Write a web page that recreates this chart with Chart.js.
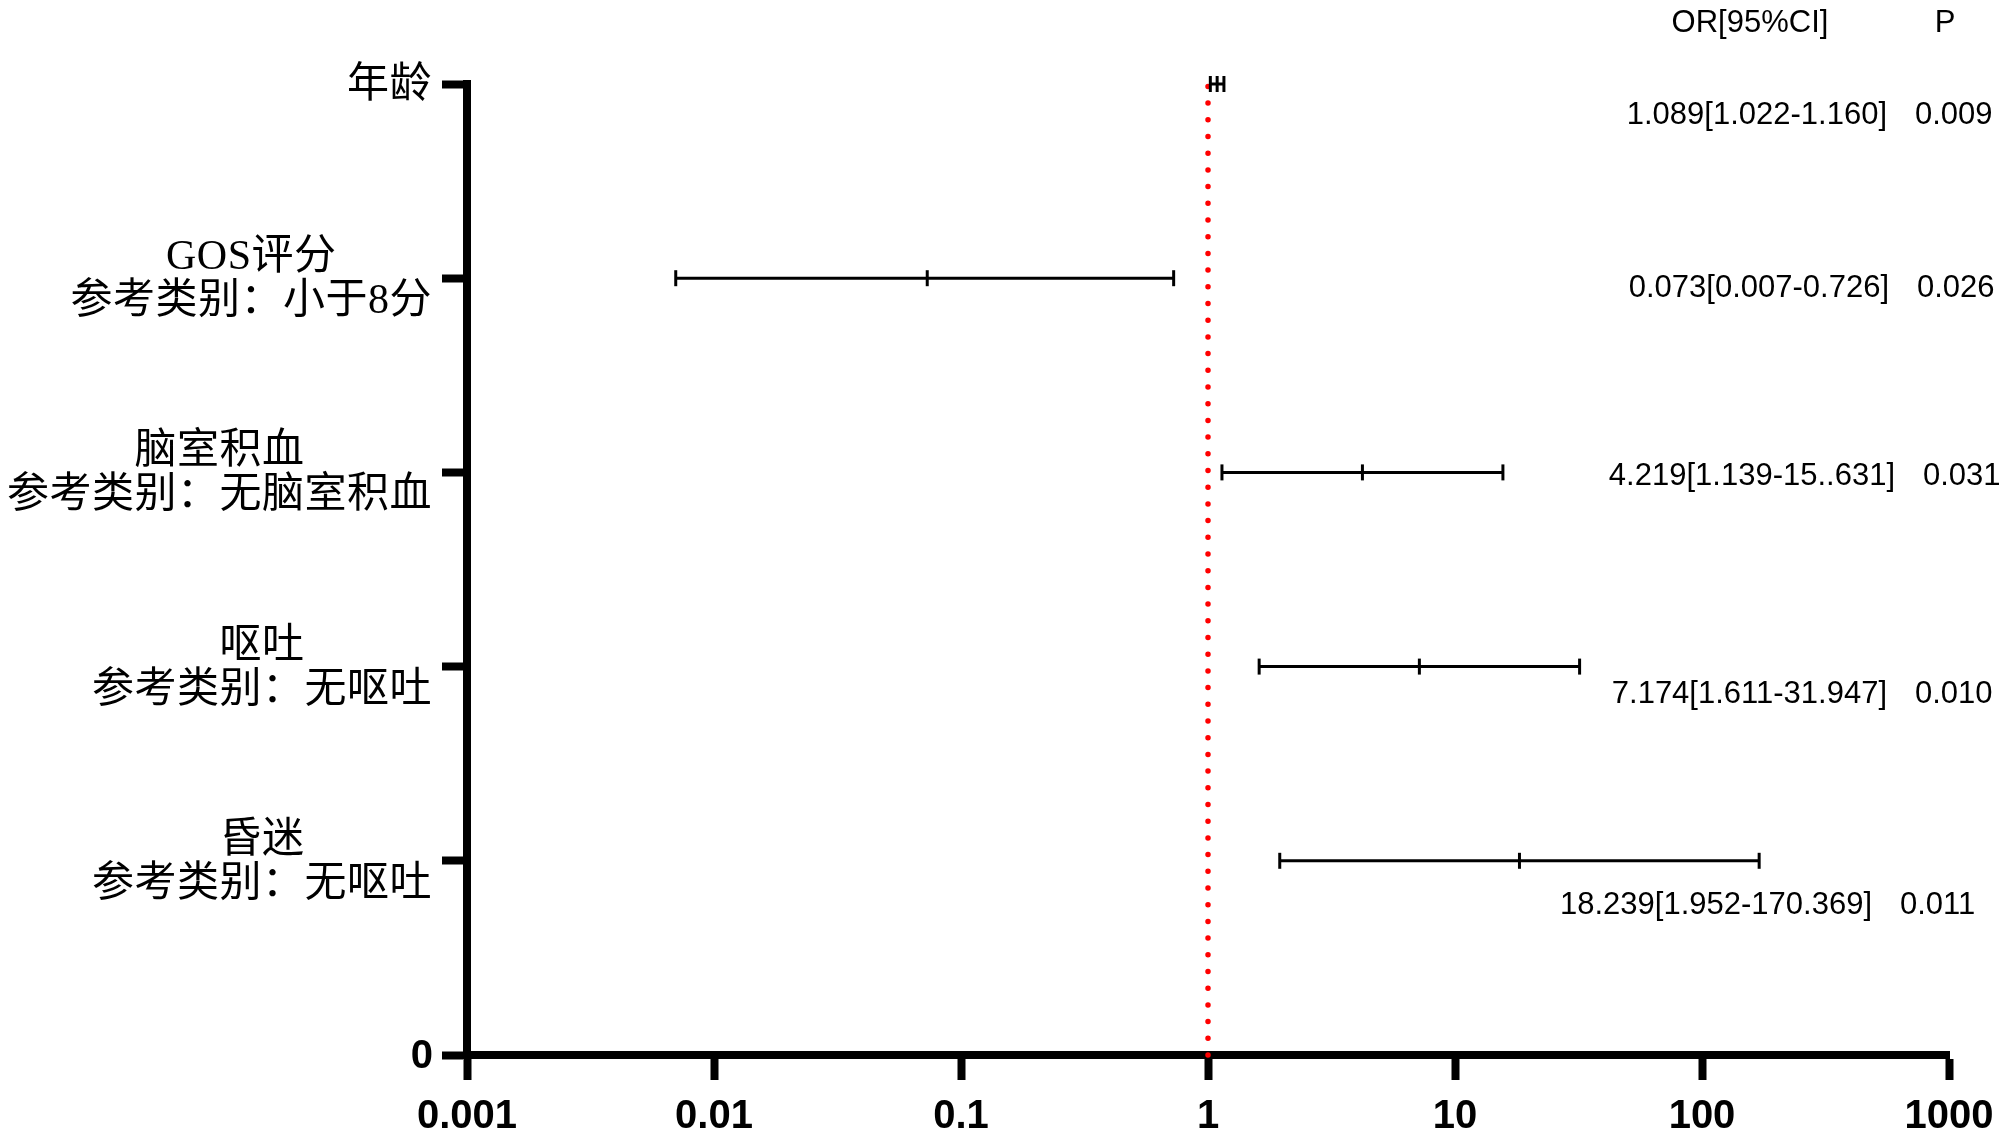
<!DOCTYPE html>
<html>
<head>
<meta charset="utf-8">
<title>Forest plot</title>
<script src="https://cdn.jsdelivr.net/npm/chart.js@4/dist/chart.umd.min.js"></script>
<style>
  html, body { margin: 0; padding: 0; background: #fff; }
  #wrap { width: 2000px; height: 1137px; position: relative; }
</style>
</head>
<body>
<div id="wrap"><canvas id="forestChart"></canvas></div>
<script>
// rows, top to bottom
var rowLabels = [
  ['年龄'],
  ['GOS评分', '参考类别：小于8分'],
  ['脑室积血', '参考类别：无脑室积血'],
  ['呕吐', '参考类别：无呕吐'],
  ['昏迷', '参考类别：无呕吐']
];
var rowY = [5, 4, 3, 2, 1];
var orValues = [1.089, 0.073, 4.219, 7.174, 18.239];
var ciLow = [1.022, 0.007, 1.139, 1.611, 1.952];
var ciHigh = [1.160, 0.726, 15.631, 31.947, 170.369];
var orText = ['1.089[1.022-1.160]', '0.073[0.007-0.726]', '4.219[1.139-15..631]', '7.174[1.611-31.947]', '18.239[1.952-170.369]'];
var pText = ['0.009', '0.026', '0.031', '0.010', '0.011'];
var xTicks = [0.001, 0.01, 0.1, 1, 10, 100, 1000];
var xTickLabels = ['0.001', '0.01', '0.1', '1', '10', '100', '1000'];
var refValue = 1;

(function () {
  'use strict';

  var serifCJK = '"Liberation Serif", "Noto Sans CJK SC", serif';
  var sans = '"Liberation Sans", Arial, sans-serif';

  // text placement for the right-hand columns (offset from each row's pixel)
  var textDy = [31, 10, 4, 28, 45];
  var orRight = [1887, 1889, 1895, 1887, 1872];
  var pLeft = [1915, 1917, 1923, 1915, 1900];

  var datasets = [];
  rowY.forEach(function (y, i) {
    datasets.push({
      data: [{ x: ciLow[i], y: y }, { x: orValues[i], y: y }, { x: ciHigh[i], y: y }],
      showLine: true,
      borderColor: '#000',
      borderWidth: 3,
      pointStyle: 'line',
      rotation: 90,
      pointRadius: 8,
      pointBorderWidth: 3,
      pointBorderColor: '#000',
      pointHoverRadius: 8,
      clip: false,
      order: 1
    });
  });
  datasets.push({
    data: [{ x: refValue, y: 0 }, { x: refValue, y: 5 }],
    showLine: true,
    borderColor: '#f00',
    borderWidth: 5.5,
    borderDash: [0, 16.7],
    borderCapStyle: 'round',
    pointRadius: 0,
    clip: false,
    order: 2
  });

  var textPlugin = {
    id: 'forestText',
    afterDraw: function (chart) {
      var ctx = chart.ctx;
      var ys = chart.scales.y;
      var labelRight = ys.right - 35;
      ctx.save();
      ctx.fillStyle = '#000';
      ctx.textBaseline = 'middle';

      // category labels, lines centred inside a right-aligned block
      ctx.font = '42px ' + serifCJK;
      if ('letterSpacing' in ctx) ctx.letterSpacing = '0.5px';
      rowLabels.forEach(function (lines, i) {
        var py = ys.getPixelForValue(rowY[i]);
        var w = 0;
        lines.forEach(function (t) { w = Math.max(w, ctx.measureText(t).width); });
        var cx = labelRight - w / 2;
        ctx.textAlign = 'center';
        if (lines.length === 1) {
          ctx.fillText(lines[0], cx, py + 2);
        } else {
          ctx.fillText(lines[0], cx, py - 20);
          ctx.fillText(lines[1], cx, py + 24);
        }
      });
      if ('letterSpacing' in ctx) ctx.letterSpacing = '0px';

      // zero label
      ctx.font = 'bold 40px ' + sans;
      ctx.textAlign = 'right';
      ctx.fillText('0', labelRight + 1, ys.getPixelForValue(0) + 2);

      // right-hand columns
      ctx.font = '31px ' + sans;
      ctx.textAlign = 'center';
      ctx.fillText('OR[95%CI]', 1750, 23);
      ctx.fillText('P', 1945, 23);
      rowY.forEach(function (y, i) {
        var py = ys.getPixelForValue(y) + textDy[i];
        ctx.textAlign = 'right';
        ctx.fillText(orText[i], orRight[i], py);
        ctx.textAlign = 'left';
        ctx.fillText(pText[i], pLeft[i], py);
      });
      ctx.restore();
    }
  };

  var canvas = document.getElementById('forestChart');
  new Chart(canvas.getContext('2d'), {
    type: 'scatter',
    data: { datasets: datasets },
    options: {
      responsive: true,
      maintainAspectRatio: false,
      animation: false,
      events: [],
      layout: { padding: { left: 0, top: 84, right: 51, bottom: 0 } },
      plugins: { legend: { display: false }, tooltip: { enabled: false } },
      scales: {
        x: {
          type: 'logarithmic',
          position: 'bottom',
          min: 0.001,
          max: 1000,
          afterBuildTicks: function (scale) {
            scale.ticks = xTicks.map(function (v) { return { value: v, major: true }; });
          },
          afterFit: function (scale) {
            scale.height = 82;
            scale.paddingLeft = 0;
            scale.paddingRight = 0;
          },
          border: { display: true, color: '#000', width: 8 },
          grid: { drawOnChartArea: false, drawTicks: true, tickLength: 25, tickWidth: 8, tickColor: '#000', color: '#000' },
          ticks: {
            autoSkip: false,
            maxRotation: 0,
            padding: 13,
            color: '#000',
            font: { family: sans, size: 40, weight: 'bold' },
            callback: function (v) {
              var i = xTicks.indexOf(v);
              return i >= 0 ? xTickLabels[i] : '';
            }
          }
        },
        y: {
          type: 'linear',
          position: 'left',
          min: 0,
          max: 5,
          afterBuildTicks: function (scale) {
            scale.ticks = [0, 1, 2, 3, 4, 5].map(function (v) { return { value: v }; });
          },
          afterFit: function (scale) {
            scale.width = 467;
            scale.paddingTop = 0;
            scale.paddingBottom = 0;
          },
          border: { display: true, color: '#000', width: 8 },
          grid: { drawOnChartArea: false, drawTicks: true, tickLength: 25, tickWidth: 8, tickColor: '#000', color: '#000' },
          ticks: { display: false }
        }
      }
    },
    plugins: [textPlugin]
  });
})();
</script>
</body>
</html>
